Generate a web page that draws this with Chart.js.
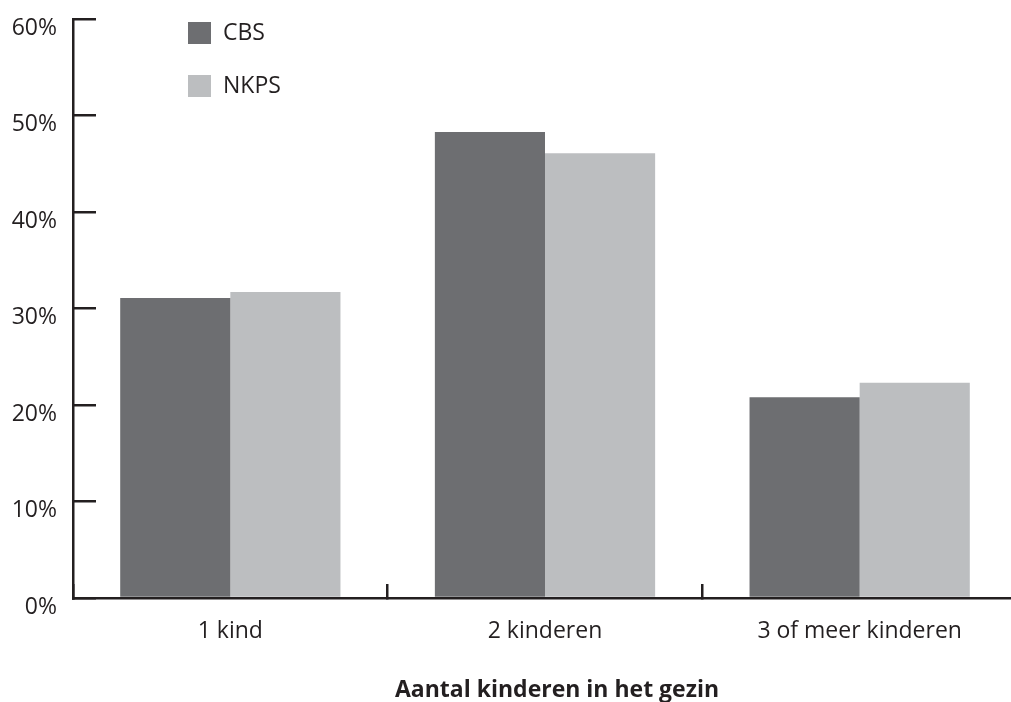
<!DOCTYPE html>
<html>
<head>
<meta charset="utf-8">
<script src="https://cdn.jsdelivr.net/npm/chart.js@4/dist/chart.umd.min.js"></script>
<style>
  html, body { margin: 0; padding: 0; background: #fff; overflow: hidden; }
  #wrap { position: relative; width: 1017px; height: 702px; }
</style>
</head>
<body>
<div id="wrap"><canvas id="c"></canvas></div>
<script>
const categories = ['1 kind', '2 kinderen', '3 of meer kinderen'];
const seriesNames = ['CBS', 'NKPS'];
const cbsValues = [31.1, 48.3, 20.8];
const nkpsValues = [31.7, 46.1, 22.3];
const yTicks = [0, 10, 20, 30, 40, 50, 60];
const xTitle = 'Aantal kinderen in het gezin';

const INK = '#231f20';
const FONT = "'Open Sans', 'Noto Sans', sans-serif";

const legendPlugin = {
  id: 'sideLegend',
  afterDraw(chart) {
    const ctx = chart.ctx;
    ctx.save();
    chart.data.datasets.forEach((ds, i) => {
      const y = 22 + i * 53;
      ctx.fillStyle = ds.backgroundColor;
      ctx.fillRect(188, y, 23, 22);
      ctx.fillStyle = INK;
      ctx.font = "23px " + FONT;
      ctx.textBaseline = 'middle';
      ctx.textAlign = 'left';
      ctx.fillText(ds.label, 223, y + 11);
    });
    ctx.restore();
  }
};

const axisTitlePlugin = {
  id: 'axisTitle',
  afterDraw(chart) {
    const ctx = chart.ctx;
    const a = chart.chartArea;
    ctx.save();
    ctx.fillStyle = INK;
    ctx.font = "bold 23px " + FONT;
    ctx.textAlign = 'center';
    ctx.textBaseline = 'alphabetic';
    ctx.fillText(xTitle, (a.left + a.right) / 2 + 12, a.bottom + 99);
    ctx.restore();
  }
};

new Chart(document.getElementById('c'), {
  type: 'bar',
  data: {
    labels: categories,
    datasets: [
      { label: seriesNames[0], data: cbsValues, backgroundColor: '#6d6e71' },
      { label: seriesNames[1], data: nkpsValues, backgroundColor: '#bcbec0' }
    ]
  },
  options: {
    responsive: true,
    maintainAspectRatio: false,
    animation: false,
    layout: { padding: { top: 19, right: 0, bottom: 0, left: 0 } },
    datasets: { bar: { categoryPercentage: 0.7, barPercentage: 1.0, borderWidth: 0 } },
    plugins: { legend: { display: false }, tooltip: { enabled: false } },
    scales: {
      x: {
        offset: true,
        afterFit: (s) => { s.height = 104; s.paddingLeft = 0; s.paddingRight = 0; },
        grid: { offset: true, drawOnChartArea: false, drawTicks: true, tickLength: -14, color: INK, lineWidth: 2.5 },
        border: { display: true, color: INK, width: 2.5 },
        ticks: { color: INK, font: { family: FONT, size: 23 }, padding: 34, maxRotation: 0 }
      },
      y: {
        min: 0, max: 60,
        afterFit: (s) => { s.width = 73; s.paddingTop = 0; s.paddingBottom = 0; },
        afterBuildTicks: (s) => { s.ticks = yTicks.map(v => ({ value: v })); },
        grid: { drawOnChartArea: false, drawTicks: true, tickLength: -23, color: INK, lineWidth: 2.5 },
        border: { display: true, color: INK, width: 2.5 },
        ticks: { color: INK, font: { family: FONT, size: 23 }, padding: 39, labelOffset: 9, callback: (v) => v + '%' }
      }
    }
  },
  plugins: [legendPlugin, axisTitlePlugin]
});
</script>
</body>
</html>
